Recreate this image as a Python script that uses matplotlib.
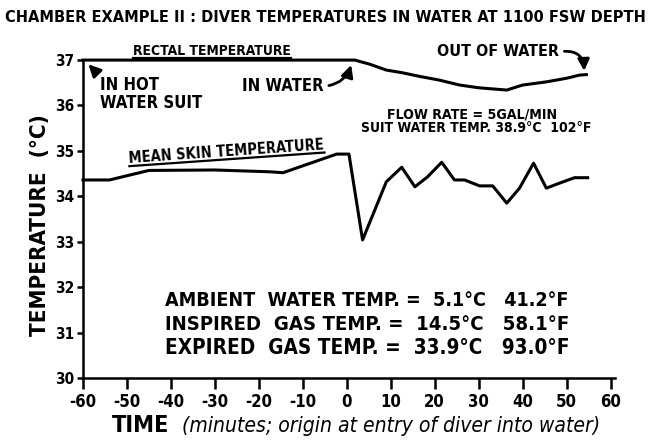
import numpy as np
import matplotlib
matplotlib.use('Agg')
import matplotlib.pyplot as plt
from matplotlib import font_manager
from matplotlib.lines import Line2D
from matplotlib.transforms import IdentityTransform

# rectal temperature (deg C) vs time (min)
rectal_t = [-60, 1.8, 5.2, 9, 12.7, 16.6, 21, 25.7, 30, 36.4, 40, 45.4, 50, 53, 54.5]
rectal_c = [37.0, 37.0, 36.91, 36.78, 36.72, 36.64, 36.56, 36.45, 36.39, 36.34,
            36.45, 36.52, 36.6, 36.67, 36.68]

# mean skin temperature
skin_t = [-60, -54, -45, -30, -17.5, -14.5, -2.3, 0.5, 3.6, 9, 12.5, 15.5, 18.4,
          21.6, 24.5, 26.8, 30.2, 33.2, 36.4, 39.3, 42.5, 45.4, 48.4, 51.8, 54.8]
skin_c = [34.36, 34.36, 34.57, 34.58, 34.54, 34.52, 34.93, 34.93, 33.04, 34.32,
          34.64, 34.21, 34.43, 34.75, 34.36, 34.36, 34.23, 34.23, 33.85, 34.18,
          34.73, 34.18, 34.29, 34.41, 34.41]

xticks = [-60, -50, -40, -30, -20, -10, 0, 10, 20, 30, 40, 50, 60]
xtick_labels = ['-60', '-50', '-40', '-30', '-20', '-10', '0', '10', '20', '30', '40', '50', '60']
yticks = [30, 31, 32, 33, 34, 35, 36, 37]

title = 'CHAMBER EXAMPLE II : DIVER TEMPERATURES IN WATER AT 1100 FSW DEPTH'
gas_lines = ['AMBIENT  WATER TEMP. =  5.1°C   41.2°F',
             'INSPIRED  GAS TEMP. =  14.5°C   58.1°F',
             'EXPIRED  GAS TEMP. =  33.9°C   93.0°F']

cond = any(f.name == 'DejaVu Sans' and f.stretch == 'condensed'
           for f in font_manager.fontManager.ttflist)
plt.rcParams['font.family'] = ['DejaVu Sans']
plt.rcParams['font.weight'] = 'bold'
if cond:
    plt.rcParams['font.stretch'] = 'condensed'

fig = plt.figure(figsize=(6.5, 4.45), dpi=100)
ax = fig.add_axes([0.1277, 0.1506, 0.946 - 0.1277, 0.865 - 0.1506])
r = fig.canvas.get_renderer()


def fit(txt, width_px):
    w = txt.get_window_extent(r).width
    txt.set_fontsize(txt.get_fontsize() * width_px / w)


def underline(txt, gap=3, lw=1.6):
    rot = txt.get_rotation()
    txt.set_rotation(0)
    w = txt.get_window_extent(r).width
    txt.set_rotation(rot)
    x0, y0 = txt.get_transform().transform(txt.get_position())
    a = np.deg2rad(rot)
    dx, dy = np.sin(a) * gap, -np.cos(a) * gap
    fig.add_artist(Line2D([x0 + dx, x0 + dx + w * np.cos(a)],
                          [y0 + dy, y0 + dy + w * np.sin(a)],
                          transform=IdentityTransform(), color='k', lw=lw))


ax.plot(rectal_t, rectal_c, color='k', lw=2.2, clip_on=False)
ax.plot(skin_t, skin_c, color='k', lw=2.2, clip_on=False)

ax.set_xlim(-60, 61)
ax.set_ylim(30, 37)
for s in ['top', 'right']:
    ax.spines[s].set_visible(False)
for s in ['left', 'bottom']:
    ax.spines[s].set_linewidth(1.8)
ax.set_xticks(xticks)
ax.set_xticklabels(xtick_labels)
ax.set_yticks(yticks)
ax.tick_params(axis='x', length=8, width=1.8, pad=3, labelsize=12)
ax.tick_params(axis='y', length=4, width=1.8, pad=2, labelsize=11)

# title and axis labels
t = fig.text(0.5, 1 - 17 / 445, title, ha='center', va='center', fontsize=16)
fit(t, 640)
yl = fig.text(40 / 650, 1 - 225 / 445, 'TEMPERATURE  (°C)', rotation=90,
              ha='center', va='center', fontsize=16)
t1 = fig.text(112 / 650, 1 - 426 / 445, 'TIME', ha='left', va='center', fontsize=16)
fit(t1, 58)
t2 = fig.text(182 / 650, 1 - 426 / 445, '(minutes; origin at entry of diver into water)',
              ha='left', va='center', fontsize=11, fontweight='normal',
              fontstyle='italic')
fit(t2, 418)

# annotations on the curves
rt = ax.text(-48.6, 37.11, 'RECTAL TEMPERATURE', ha='left', va='baseline',
             fontsize=9, clip_on=False)
fit(rt, 158)
underline(rt)
ms = ax.text(-49.5, 34.73, 'MEAN SKIN TEMPERATURE', ha='left', va='baseline',
             rotation=4, rotation_mode='anchor', fontsize=9)
fit(ms, 194)
underline(ms)

arrow = dict(arrowstyle='-|>,head_length=0.6,head_width=0.3', lw=2, color='k')
a1 = ax.annotate('IN HOT\nWATER SUIT', xy=(-59.2, 36.95), xytext=(-56.2, 36.25),
                 ha='left', va='center', fontsize=12, linespacing=1.0,
                 arrowprops=dict(arrow, relpos=(0.05, 1.0),
                                 connectionstyle='arc3,rad=-0.1'))
a2 = ax.annotate('IN WATER', xy=(1.2, 36.95), xytext=(-23.9, 36.42),
                 ha='left', va='center', fontsize=12,
                 arrowprops=dict(arrow, relpos=(1.0, 0.5),
                                 connectionstyle='arc3,rad=0.35'))
a3 = ax.annotate('OUT OF WATER', xy=(54.0, 36.7), xytext=(20.5, 37.18),
                 ha='left', va='center', fontsize=11.5, annotation_clip=False,
                 arrowprops=dict(arrow, relpos=(1.0, 0.5),
                                 connectionstyle='arc3,rad=-0.6'))

f1 = ax.text(28.6, 35.81, 'FLOW RATE = 5GAL/MIN', ha='center', va='center', fontsize=10)
fit(f1, 170)
f2 = ax.text(29.5, 35.50, 'SUIT WATER TEMP. 38.9°C  102°F', ha='center', va='center',
             fontsize=9)
fit(f2, 230)

for i, line in enumerate(gas_lines):
    g = fig.text(165 / 650, 1 - (300 + 24 * i) / 445, line, ha='left', va='center',
                 fontsize=15)
    fit(g, 404)

fig.savefig('out.png', dpi=100, facecolor='white')
